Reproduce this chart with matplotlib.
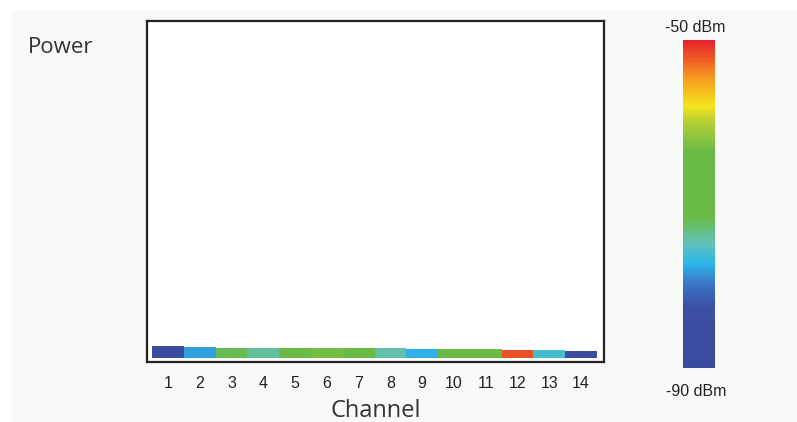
import numpy as np
import matplotlib
matplotlib.use("Agg")
import matplotlib.pyplot as plt
from matplotlib.colors import LinearSegmentedColormap, Normalize
from matplotlib.patches import Rectangle
import matplotlib.cm as cm

# ---- data ----
channels = [1, 2, 3, 4, 5, 6, 7, 8, 9, 10, 11, 12, 13, 14]
power_dbm = [-88, -78, -72, -74, -69, -63, -68, -74.5, -77.5, -70, -71.5, -52, -76, -88]
bar_heights = [11.3, 10.7, 10.0, 10.0, 10.0, 10.0, 9.3, 9.3, 8.7, 8.3, 8.3, 8.0, 7.3, 6.7]
power_min, power_max = -90, -50
cbar_labels = ["-50 dBm", "-90 dBm"]

W, H = 797, 422
fig = plt.figure(figsize=(W / 100, H / 100), dpi=100)
fig.patch.set_facecolor("#f8faf8")

# white margins at top and left (page outside the grey panel)
fig.patches.append(Rectangle((0, 1 - 10 / H), 1, 10 / H, transform=fig.transFigure,
                             facecolor="white", edgecolor="none", zorder=-10))
fig.patches.append(Rectangle((0, 0), 12 / W, 1, transform=fig.transFigure,
                             facecolor="white", edgecolor="none", zorder=-10))

cmap = LinearSegmentedColormap.from_list("power", [
    (0.00, "#3a4c9f"),
    (0.18, "#3b4fa3"),
    (0.25, "#3a6fc2"),
    (0.32, "#2cb8ea"),
    (0.38, "#62c0b8"),
    (0.46, "#6abb46"),
    (0.66, "#6abb46"),
    (0.74, "#a8cc38"),
    (0.80, "#f4e41c"),
    (0.88, "#f6a020"),
    (1.00, "#e8202a"),
])
norm = Normalize(vmin=power_min, vmax=power_max)

# main axes (pixel-based placement)
l, r, t, b = 147, 604, 21, 362
ax = fig.add_axes([l / W, 1 - b / H, (r - l) / W, (b - t) / H])
ax.set_facecolor("white")
ax.set_ylim(0, b - t)
ax.set_xlim(0.5 - 5 / 31.8, 14.5 + 7 / 31.8)
colors = [cmap(norm(p)) for p in power_dbm]
ax.bar(channels, bar_heights, width=1.0, bottom=4.5, color=colors, edgecolor="none")
for s in ax.spines.values():
    s.set_color("#222222")
    s.set_linewidth(1.6)
ax.set_yticks([])
ax.set_xticks(channels)
ax.set_xticklabels([str(c) for c in channels], fontfamily="Liberation Sans",
                   fontsize=11.5, color="#222222")
ax.tick_params(axis="x", length=0, pad=10)
ax.set_xlabel("Channel", fontfamily="Open Sans", fontsize=17, color="#333333", labelpad=6)

fig.text(28 / W, 1 - 53 / H, "Power", fontfamily="Open Sans", fontsize=16,
         color="#333333", ha="left", va="baseline")

# colour bar
cl, cr, ct, cb = 683, 715, 40, 368
cax = fig.add_axes([cl / W, 1 - cb / H, (cr - cl) / W, (cb - ct) / H])
cbar = fig.colorbar(cm.ScalarMappable(norm=norm, cmap=cmap), cax=cax)
cbar.outline.set_visible(False)
cbar.set_ticks([])
fig.text(695 / W, 1 - 27 / H, cbar_labels[0], fontfamily="Liberation Sans", fontsize=11.5,
         color="#222222", ha="center", va="center")
fig.text(696 / W, 1 - 392 / H, cbar_labels[1], fontfamily="Liberation Sans", fontsize=11.5,
         color="#222222", ha="center", va="center")

fig.savefig("out.png", dpi=100, facecolor=fig.get_facecolor())
